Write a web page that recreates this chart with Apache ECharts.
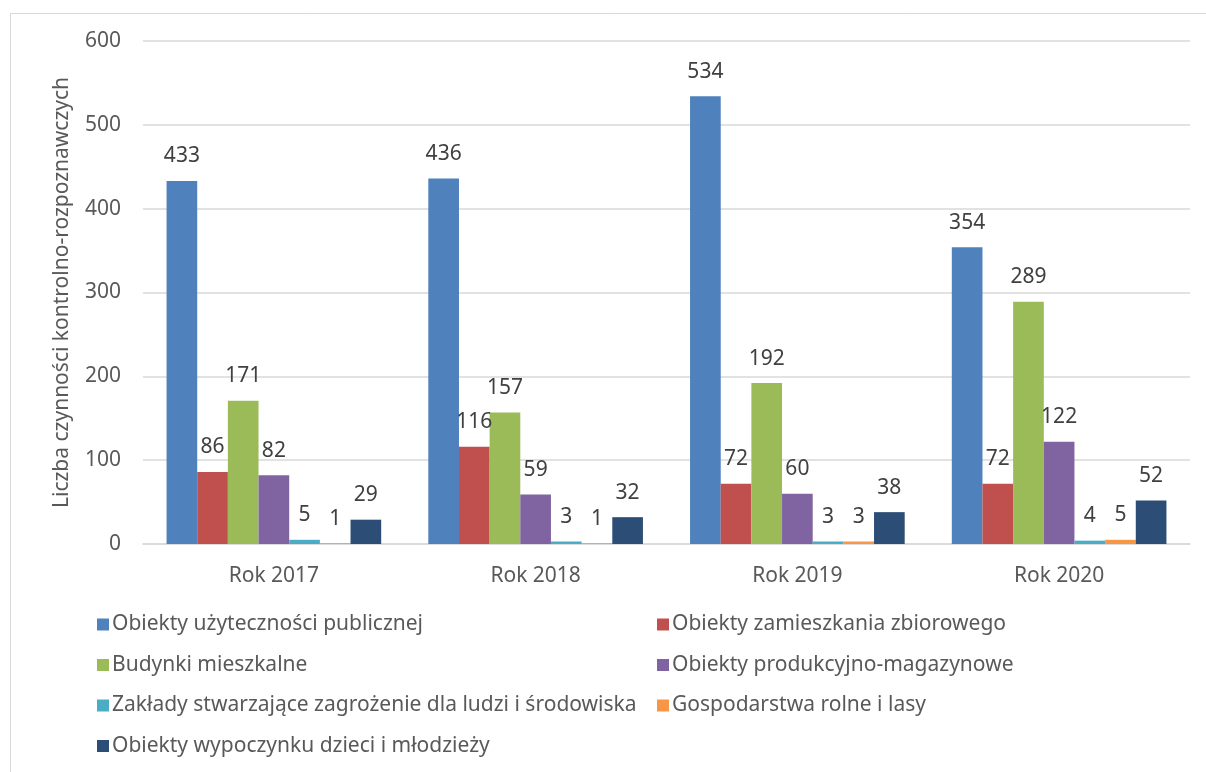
<!DOCTYPE html>
<html>
<head>
<meta charset="utf-8">
<script src="https://cdn.jsdelivr.net/npm/echarts@6/dist/echarts.min.js"></script>
<style>
  html, body { margin: 0; padding: 0; background: #fff; }
  #main { width: 1206px; height: 772px; }
</style>
</head>
<body>
<div id="main"></div>
<script>
'use strict';

var years = ['Rok 2017', 'Rok 2018', 'Rok 2019', 'Rok 2020'];
var seriesNames = [
    'Obiekty użyteczności publicznej',
    'Obiekty zamieszkania zbiorowego',
    'Budynki mieszkalne',
    'Obiekty produkcyjno-magazynowe',
    'Zakłady stwarzające zagrożenie dla ludzi i środowiska',
    'Gospodarstwa rolne i lasy',
    'Obiekty wypoczynku dzieci i młodzieży'
];
var uzytecznosci = [433, 436, 534, 354];
var zamieszkania = [86, 116, 72, 72];
var mieszkalne = [171, 157, 192, 289];
var produkcyjne = [82, 59, 60, 122];
var zaklady = [5, 3, 3, 4];
var gospodarstwa = [1, 1, 3, 5];
var wypoczynku = [29, 32, 38, 52];
var yTicks = [0, 100, 200, 300, 400, 500, 600];

var allData = [uzytecznosci, zamieszkania, mieszkalne, produkcyjne, zaklady, gospodarstwa, wypoczynku];
var colors = ['#4F81BD', '#C0504D', '#9BBB59', '#8064A2', '#4BACC6', '#F79646', '#2C4D75'];
var fontName = 'Noto Sans';

var myChart = echarts.init(document.getElementById('main'));

var series = allData.map(function (d, i) {
    return {
        name: seriesNames[i],
        type: 'bar',
        data: d,
        barGap: '0%',
        barCategoryGap: '18%',
        itemStyle: { color: colors[i] },
        label: {
            show: true,
            position: 'top',
            distance: 14,
            color: '#404040',
            fontSize: 21,
            fontFamily: fontName
        }
    };
});

// legend: two columns, one item each
var legends = seriesNames.map(function (n, i) {
    return {
        data: [n],
        left: (i % 2 === 0) ? 97 : 657,
        top: 614 + Math.floor(i / 2) * 40.5,
        padding: 0,
        itemWidth: 12,
        itemHeight: 12,
        itemGap: 0,
        icon: 'rect',
        selectedMode: false,
        textStyle: { color: '#595959', fontSize: 21, fontFamily: fontName, padding: [0, 0, 0, -2] }
    };
});

var option = {
    animation: false,
    color: colors,
    graphic: [{
        type: 'rect',
        shape: { x: 10.5, y: 13.5, width: 1210, height: 800 },
        style: { fill: 'none', stroke: '#D9D9D9', lineWidth: 1 }
    }],
    legend: legends,
    grid: { left: 143, right: 16, top: 41, bottom: 228 },
    xAxis: {
        type: 'category',
        data: years,
        axisTick: { show: false },
        axisLine: { lineStyle: { color: '#D9D9D9', width: 1.5 } },
        axisLabel: { color: '#595959', fontSize: 21, fontFamily: fontName, margin: 22 }
    },
    yAxis: {
        type: 'value',
        min: yTicks[0],
        max: yTicks[yTicks.length - 1],
        interval: 100,
        name: 'Liczba czynności kontrolno-rozpoznawczych',
        nameLocation: 'middle',
        nameGap: 70,
        nameTextStyle: { color: '#595959', fontSize: 21, fontFamily: fontName },
        axisLine: { show: false },
        axisTick: { show: false },
        axisLabel: { color: '#595959', fontSize: 21, fontFamily: fontName, margin: 22 },
        splitLine: { lineStyle: { color: '#D9D9D9', width: 1.5 } }
    },
    series: series
};

myChart.setOption(option);
</script>
</body>
</html>
